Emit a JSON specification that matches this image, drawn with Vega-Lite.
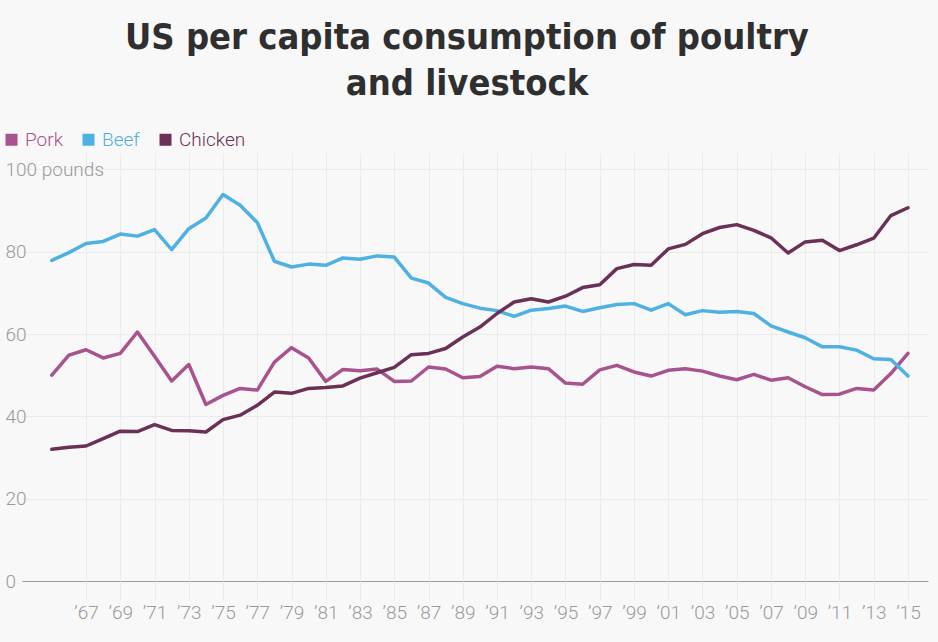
{
  "$schema": "https://vega.github.io/schema/vega-lite/v6.json",
  "width": 906,
  "height": 428,
  "autosize": {"type": "none"},
  "padding": {"left": 22, "top": 153, "right": 10, "bottom": 61},
  "background": "#f8f8f8",
  "title": {
    "text": ["US per capita consumption of poultry", "and livestock"],
    "font": "Liberation Sans Narrow, DejaVu Sans Condensed, Roboto",
    "fontSize": 36,
    "fontWeight": "bold",
    "color": "#2f2f2f",
    "lineHeight": 46,
    "anchor": "middle",
    "dx": -8,
    "offset": 27
  },
  "data": {
    "values": [
      {"year": 1965, "meat": "Pork", "pounds": 50.0}, {"year": 1965, "meat": "Beef", "pounds": 77.9}, {"year": 1965, "meat": "Chicken", "pounds": 32.0},
      {"year": 1966, "meat": "Pork", "pounds": 54.9}, {"year": 1966, "meat": "Beef", "pounds": 79.8}, {"year": 1966, "meat": "Chicken", "pounds": 32.5},
      {"year": 1967, "meat": "Pork", "pounds": 56.2}, {"year": 1967, "meat": "Beef", "pounds": 82.0}, {"year": 1967, "meat": "Chicken", "pounds": 32.8},
      {"year": 1968, "meat": "Pork", "pounds": 54.2}, {"year": 1968, "meat": "Beef", "pounds": 82.5}, {"year": 1968, "meat": "Chicken", "pounds": 34.6},
      {"year": 1969, "meat": "Pork", "pounds": 55.3}, {"year": 1969, "meat": "Beef", "pounds": 84.3}, {"year": 1969, "meat": "Chicken", "pounds": 36.4},
      {"year": 1970, "meat": "Pork", "pounds": 60.5}, {"year": 1970, "meat": "Beef", "pounds": 83.8}, {"year": 1970, "meat": "Chicken", "pounds": 36.3},
      {"year": 1971, "meat": "Pork", "pounds": 54.6}, {"year": 1971, "meat": "Beef", "pounds": 85.4}, {"year": 1971, "meat": "Chicken", "pounds": 38.0},
      {"year": 1972, "meat": "Pork", "pounds": 48.6}, {"year": 1972, "meat": "Beef", "pounds": 80.5}, {"year": 1972, "meat": "Chicken", "pounds": 36.6},
      {"year": 1973, "meat": "Pork", "pounds": 52.6}, {"year": 1973, "meat": "Beef", "pounds": 85.6}, {"year": 1973, "meat": "Chicken", "pounds": 36.5},
      {"year": 1974, "meat": "Pork", "pounds": 42.9}, {"year": 1974, "meat": "Beef", "pounds": 88.2}, {"year": 1974, "meat": "Chicken", "pounds": 36.2},
      {"year": 1975, "meat": "Pork", "pounds": 45.1}, {"year": 1975, "meat": "Beef", "pounds": 93.9}, {"year": 1975, "meat": "Chicken", "pounds": 39.2},
      {"year": 1976, "meat": "Pork", "pounds": 46.8}, {"year": 1976, "meat": "Beef", "pounds": 91.3}, {"year": 1976, "meat": "Chicken", "pounds": 40.3},
      {"year": 1977, "meat": "Pork", "pounds": 46.4}, {"year": 1977, "meat": "Beef", "pounds": 87.1}, {"year": 1977, "meat": "Chicken", "pounds": 42.7},
      {"year": 1978, "meat": "Pork", "pounds": 53.2}, {"year": 1978, "meat": "Beef", "pounds": 77.7}, {"year": 1978, "meat": "Chicken", "pounds": 45.9},
      {"year": 1979, "meat": "Pork", "pounds": 56.7}, {"year": 1979, "meat": "Beef", "pounds": 76.3}, {"year": 1979, "meat": "Chicken", "pounds": 45.6},
      {"year": 1980, "meat": "Pork", "pounds": 54.2}, {"year": 1980, "meat": "Beef", "pounds": 77.0}, {"year": 1980, "meat": "Chicken", "pounds": 46.8},
      {"year": 1981, "meat": "Pork", "pounds": 48.5}, {"year": 1981, "meat": "Beef", "pounds": 76.7}, {"year": 1981, "meat": "Chicken", "pounds": 47.0},
      {"year": 1982, "meat": "Pork", "pounds": 51.4}, {"year": 1982, "meat": "Beef", "pounds": 78.5}, {"year": 1982, "meat": "Chicken", "pounds": 47.4},
      {"year": 1983, "meat": "Pork", "pounds": 51.1}, {"year": 1983, "meat": "Beef", "pounds": 78.2}, {"year": 1983, "meat": "Chicken", "pounds": 49.3},
      {"year": 1984, "meat": "Pork", "pounds": 51.5}, {"year": 1984, "meat": "Beef", "pounds": 79.0}, {"year": 1984, "meat": "Chicken", "pounds": 50.6},
      {"year": 1985, "meat": "Pork", "pounds": 48.5}, {"year": 1985, "meat": "Beef", "pounds": 78.7}, {"year": 1985, "meat": "Chicken", "pounds": 51.9},
      {"year": 1986, "meat": "Pork", "pounds": 48.6}, {"year": 1986, "meat": "Beef", "pounds": 73.6}, {"year": 1986, "meat": "Chicken", "pounds": 55.0},
      {"year": 1987, "meat": "Pork", "pounds": 52.0}, {"year": 1987, "meat": "Beef", "pounds": 72.4}, {"year": 1987, "meat": "Chicken", "pounds": 55.3},
      {"year": 1988, "meat": "Pork", "pounds": 51.5}, {"year": 1988, "meat": "Beef", "pounds": 68.9}, {"year": 1988, "meat": "Chicken", "pounds": 56.5},
      {"year": 1989, "meat": "Pork", "pounds": 49.4}, {"year": 1989, "meat": "Beef", "pounds": 67.4}, {"year": 1989, "meat": "Chicken", "pounds": 59.3},
      {"year": 1990, "meat": "Pork", "pounds": 49.7}, {"year": 1990, "meat": "Beef", "pounds": 66.3}, {"year": 1990, "meat": "Chicken", "pounds": 61.7},
      {"year": 1991, "meat": "Pork", "pounds": 52.2}, {"year": 1991, "meat": "Beef", "pounds": 65.7}, {"year": 1991, "meat": "Chicken", "pounds": 65.0},
      {"year": 1992, "meat": "Pork", "pounds": 51.6}, {"year": 1992, "meat": "Beef", "pounds": 64.3}, {"year": 1992, "meat": "Chicken", "pounds": 67.8},
      {"year": 1993, "meat": "Pork", "pounds": 52.0}, {"year": 1993, "meat": "Beef", "pounds": 65.8}, {"year": 1993, "meat": "Chicken", "pounds": 68.6},
      {"year": 1994, "meat": "Pork", "pounds": 51.6}, {"year": 1994, "meat": "Beef", "pounds": 66.2}, {"year": 1994, "meat": "Chicken", "pounds": 67.8},
      {"year": 1995, "meat": "Pork", "pounds": 48.1}, {"year": 1995, "meat": "Beef", "pounds": 66.8}, {"year": 1995, "meat": "Chicken", "pounds": 69.2},
      {"year": 1996, "meat": "Pork", "pounds": 47.8}, {"year": 1996, "meat": "Beef", "pounds": 65.5}, {"year": 1996, "meat": "Chicken", "pounds": 71.3},
      {"year": 1997, "meat": "Pork", "pounds": 51.3}, {"year": 1997, "meat": "Beef", "pounds": 66.4}, {"year": 1997, "meat": "Chicken", "pounds": 72.0},
      {"year": 1998, "meat": "Pork", "pounds": 52.4}, {"year": 1998, "meat": "Beef", "pounds": 67.2}, {"year": 1998, "meat": "Chicken", "pounds": 75.9},
      {"year": 1999, "meat": "Pork", "pounds": 50.8}, {"year": 1999, "meat": "Beef", "pounds": 67.4}, {"year": 1999, "meat": "Chicken", "pounds": 76.9},
      {"year": 2000, "meat": "Pork", "pounds": 49.8}, {"year": 2000, "meat": "Beef", "pounds": 65.8}, {"year": 2000, "meat": "Chicken", "pounds": 76.7},
      {"year": 2001, "meat": "Pork", "pounds": 51.2}, {"year": 2001, "meat": "Beef", "pounds": 67.4}, {"year": 2001, "meat": "Chicken", "pounds": 80.7},
      {"year": 2002, "meat": "Pork", "pounds": 51.6}, {"year": 2002, "meat": "Beef", "pounds": 64.7}, {"year": 2002, "meat": "Chicken", "pounds": 81.8},
      {"year": 2003, "meat": "Pork", "pounds": 51.0}, {"year": 2003, "meat": "Beef", "pounds": 65.7}, {"year": 2003, "meat": "Chicken", "pounds": 84.4},
      {"year": 2004, "meat": "Pork", "pounds": 49.8}, {"year": 2004, "meat": "Beef", "pounds": 65.3}, {"year": 2004, "meat": "Chicken", "pounds": 85.9},
      {"year": 2005, "meat": "Pork", "pounds": 48.9}, {"year": 2005, "meat": "Beef", "pounds": 65.5}, {"year": 2005, "meat": "Chicken", "pounds": 86.6},
      {"year": 2006, "meat": "Pork", "pounds": 50.2}, {"year": 2006, "meat": "Beef", "pounds": 65.0}, {"year": 2006, "meat": "Chicken", "pounds": 85.2},
      {"year": 2007, "meat": "Pork", "pounds": 48.8}, {"year": 2007, "meat": "Beef", "pounds": 62.0}, {"year": 2007, "meat": "Chicken", "pounds": 83.4},
      {"year": 2008, "meat": "Pork", "pounds": 49.4}, {"year": 2008, "meat": "Beef", "pounds": 60.5}, {"year": 2008, "meat": "Chicken", "pounds": 79.7},
      {"year": 2009, "meat": "Pork", "pounds": 47.2}, {"year": 2009, "meat": "Beef", "pounds": 59.1}, {"year": 2009, "meat": "Chicken", "pounds": 82.4},
      {"year": 2010, "meat": "Pork", "pounds": 45.3}, {"year": 2010, "meat": "Beef", "pounds": 56.9}, {"year": 2010, "meat": "Chicken", "pounds": 82.8},
      {"year": 2011, "meat": "Pork", "pounds": 45.4}, {"year": 2011, "meat": "Beef", "pounds": 56.9}, {"year": 2011, "meat": "Chicken", "pounds": 80.3},
      {"year": 2012, "meat": "Pork", "pounds": 46.8}, {"year": 2012, "meat": "Beef", "pounds": 56.1}, {"year": 2012, "meat": "Chicken", "pounds": 81.7},
      {"year": 2013, "meat": "Pork", "pounds": 46.4}, {"year": 2013, "meat": "Beef", "pounds": 54.0}, {"year": 2013, "meat": "Chicken", "pounds": 83.3},
      {"year": 2014, "meat": "Pork", "pounds": 50.4}, {"year": 2014, "meat": "Beef", "pounds": 53.8}, {"year": 2014, "meat": "Chicken", "pounds": 88.8},
      {"year": 2015, "meat": "Pork", "pounds": 55.3}, {"year": 2015, "meat": "Beef", "pounds": 49.8}, {"year": 2015, "meat": "Chicken", "pounds": 90.7}
    ]
  },
  "mark": {"type": "line", "strokeWidth": 3.5, "strokeJoin": "round", "strokeCap": "round"},
  "encoding": {
    "x": {
      "field": "year",
      "type": "quantitative",
      "scale": {"domain": [1963.26, 2016.17], "nice": false, "zero": false},
      "axis": {
        "title": null,
        "values": [1967, 1969, 1971, 1973, 1975, 1977, 1979, 1981, 1983, 1985, 1987, 1989, 1991, 1993, 1995, 1997, 1999, 2001, 2003, 2005, 2007, 2009, 2011, 2013, 2015],
        "labelExpr": "'\u2019' + slice(toString(datum.value), 2)",
        "domain": false,
        "grid": true,
        "gridColor": "#ebebeb",
        "ticks": true,
        "tickSize": 19,
        "tickColor": "#ebebeb",
        "labelPadding": 3,
        "labelBaseline": "top",
        "labelFont": "Roboto",
        "labelFontWeight": 300,
        "labelFontSize": 19,
        "labelColor": "#9a9a9a"
      }
    },
    "y": {
      "field": "pounds",
      "type": "quantitative",
      "scale": {"domain": [0, 104], "nice": false},
      "axis": {
        "title": null,
        "values": [0, 20, 40, 60, 80, 100],
        "labelExpr": "datum.value == 100 ? '100 pounds' : datum.label",
        "domain": false,
        "ticks": false,
        "grid": true,
        "gridColor": {"condition": {"test": "datum.value === 0", "value": "#9a9a9a"}, "value": "#ebebeb"},
        "labelAlign": "left",
        "labelBaseline": "middle",
        "labelPadding": 17,
        "labelFont": "Roboto",
        "labelFontWeight": 300,
        "labelFontSize": 19,
        "labelColor": "#9a9a9a"
      }
    },
    "color": {
      "field": "meat",
      "type": "nominal",
      "scale": {"domain": ["Pork", "Beef", "Chicken"], "range": ["#a8528e", "#4fb0e3", "#6b3056"]},
      "legend": {
        "title": null,
        "orient": "none",
        "legendX": -20,
        "legendY": -23,
        "direction": "horizontal",
        "symbolType": "square",
        "symbolSize": 144,
        "symbolStrokeWidth": 0,
        "symbolOpacity": 1,
        "labelFont": "Roboto",
        "labelFontWeight": 300,
        "labelFontSize": 19,
        "labelOffset": 4,
        "columnPadding": 16,
        "encode": {
          "symbols": {"update": {"fill": {"scale": "color", "field": "value"}, "strokeWidth": {"value": 0}}},
          "labels": {"update": {"fill": {"scale": "color", "field": "value"}}}
        }
      }
    }
  },
  "config": {
    "view": {"stroke": null}
  }
}
